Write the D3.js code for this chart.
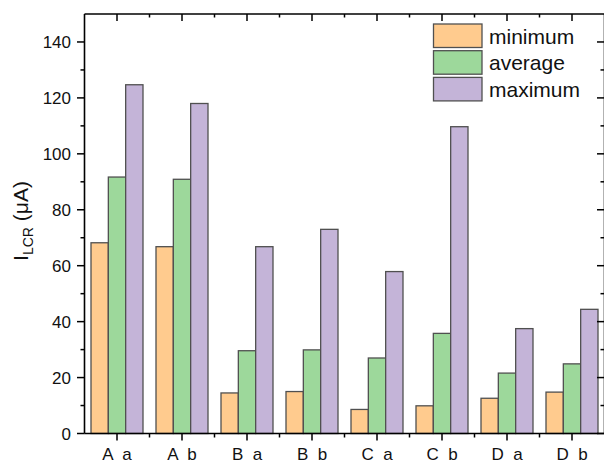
<!DOCTYPE html>
<html>
<head>
<meta charset="utf-8">
<script src="https://d3js.org/d3.v7.min.js"></script>
<style>
  body { margin: 0; background: #fff; }
  svg { display: block; font-family: "Liberation Sans", Arial, sans-serif; }
</style>
</head>
<body>
<div class="vis"></div>
<script>
    // values
    var categories = ["A  a", "A  b", "B  a", "B  b", "C  a", "C  b", "D  a", "D  b"];
    var seriesNames = ["minimum", "average", "maximum"];
    var minimum = [68.2, 66.8, 14.5, 15.0, 8.6, 9.9, 12.6, 14.8];
    var average = [91.7, 90.9, 29.6, 29.9, 27.0, 35.8, 21.6, 24.9];
    var maximum = [124.7, 118.0, 66.8, 73.0, 57.9, 109.7, 37.5, 44.4];
    var colors = ["#FFCB8E", "#9DD89B", "#C4B4D8"];
    var yTicks = [0, 20, 40, 60, 80, 100, 120, 140];

    var width = 604, height = 463;
    var margin = { top: 14, right: -0.5, bottom: 29.5, left: 84.5 };

    var series = [minimum, average, maximum];

    var svg = d3.select(".vis")
        .append("svg")
        .attr("width", width)
        .attr("height", height)
        .attr("viewBox", [0, 0, width, height]);

    var x = d3.scaleBand()
        .domain(categories)
        .range([margin.left, width - margin.right])
        .paddingInner(0.2)
        .paddingOuter(0.1);

    var xSub = d3.scaleBand()
        .domain(seriesNames)
        .range([0, x.bandwidth()]);

    var y = d3.scaleLinear()
        .domain([0, 150])
        .range([height - margin.bottom, margin.top]);

    var step = x.step();
    var x0 = margin.left, x1 = width - margin.right;
    var y0 = height - margin.bottom, y1 = margin.top;

    // bars
    var rows = categories.map((c, i) => ({ cat: c, vals: series.map((s, j) => ({ name: seriesNames[j], v: s[i], k: j })) }));

    svg.append("g")
        .selectAll("g")
        .data(rows)
        .join("g")
        .attr("transform", d => `translate(${x(d.cat)},0)`)
        .selectAll("rect")
        .data(d => d.vals)
        .join("rect")
        .attr("x", d => xSub(d.name))
        .attr("y", d => y(d.v))
        .attr("width", xSub.bandwidth())
        .attr("height", d => y(0) - y(d.v))
        .attr("fill", d => colors[d.k])
        .attr("stroke", "#505050")
        .attr("stroke-width", 1.3);

    // frame
    var frame = svg.append("g").attr("stroke", "#000").attr("stroke-width", 1.6).attr("fill", "none");
    frame.append("line").attr("x1", x0).attr("x2", x1).attr("y1", y0).attr("y2", y0);
    frame.append("line").attr("x1", x0).attr("x2", x1).attr("y1", y1).attr("y2", y1);
    frame.append("line").attr("x1", x0).attr("x2", x0).attr("y1", y0).attr("y2", y1);
    frame.append("line").attr("x1", x1).attr("x2", x1).attr("y1", y0).attr("y2", y1);

    // x ticks: major at category centres, minor at boundaries
    var centres = categories.map(c => x(c) + x.bandwidth() / 2);
    var bounds = centres.slice(0, -1).map(c => c + step / 2);
    var tk = svg.append("g").attr("stroke", "#000").attr("stroke-width", 1.5);
    tk.selectAll(".xb").data(centres).join("line")
        .attr("x1", d => d).attr("x2", d => d).attr("y1", y0).attr("y2", y0 + 7);
    tk.selectAll(".xbm").data(bounds).join("line")
        .attr("x1", d => d).attr("x2", d => d).attr("y1", y0).attr("y2", y0 + 4);
    tk.selectAll(".xt").data(centres).join("line")
        .attr("x1", d => d).attr("x2", d => d).attr("y1", y1).attr("y2", y1 + 7);
    tk.selectAll(".xtm").data(bounds).join("line")
        .attr("x1", d => d).attr("x2", d => d).attr("y1", y1).attr("y2", y1 + 3.5);

    // y ticks
    var minorY = d3.range(10, 150, 20);
    tk.selectAll(".yl").data(yTicks).join("line")
        .attr("x1", x0 - 7.5).attr("x2", x0).attr("y1", d => y(d)).attr("y2", d => y(d));
    tk.selectAll(".ylm").data(minorY).join("line")
        .attr("x1", x0 - 4).attr("x2", x0).attr("y1", d => y(d)).attr("y2", d => y(d));
    tk.selectAll(".yr").data(yTicks).join("line")
        .attr("x1", x1 - 7.5).attr("x2", x1).attr("y1", d => y(d)).attr("y2", d => y(d));
    tk.selectAll(".yrm").data(minorY).join("line")
        .attr("x1", x1 - 4).attr("x2", x1).attr("y1", d => y(d)).attr("y2", d => y(d));

    // tick labels
    svg.append("g")
        .selectAll("text")
        .data(yTicks)
        .join("text")
        .attr("x", x0 - 13.5)
        .attr("y", d => y(d))
        .attr("dy", "0.36em")
        .attr("text-anchor", "end")
        .attr("font-size", 17)
        .attr("fill", "#111")
        .text(d => d);

    svg.append("g")
        .selectAll("text")
        .data(categories)
        .join("text")
        .attr("x", (d, i) => centres[i])
        .attr("y", 459.5)
        .attr("text-anchor", "middle")
        .attr("font-size", 17)
        .attr("fill", "#111")
        .style("white-space", "pre")
        .text(d => d);

    // y axis title
    var yt = svg.append("text")
        .attr("transform", "translate(28,221) rotate(-90)")
        .attr("text-anchor", "middle")
        .attr("font-size", 21)
        .attr("fill", "#111");
    yt.append("tspan").text("I");
    yt.append("tspan").attr("font-size", 14).attr("dy", 5).text("LCR");
    yt.append("tspan").attr("dy", -5).text(" (\u03bcA)");

    // legend
    var legend = svg.append("g")
        .selectAll("g")
        .data(seriesNames)
        .join("g")
        .attr("transform", (d, i) => `translate(433.5,${24 + i * 26.7})`);
    legend.append("rect")
        .attr("width", 48.5)
        .attr("height", 23.5)
        .attr("fill", (d, i) => colors[i])
        .attr("stroke", "#505050")
        .attr("stroke-width", 1.3);
    legend.append("text")
        .attr("x", 55.5)
        .attr("y", 19.5)
        .attr("font-size", 21)
        .attr("fill", "#111")
        .text(d => d);
</script>
</body>
</html>
